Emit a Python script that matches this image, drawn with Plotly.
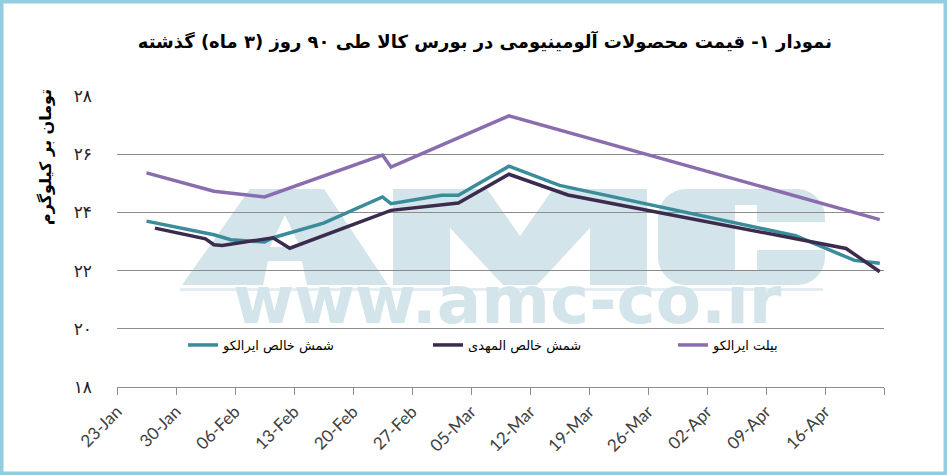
import math
import pandas as pd
import plotly.graph_objects as go

# data (Toman per kg)
teal_name = "شمش خالص ایرالکو"
teal_dates = ["2024-01-26", "2024-02-03", "2024-02-05", "2024-02-09", "2024-02-10",
              "2024-02-16", "2024-02-23", "2024-02-24", "2024-03-01", "2024-03-03",
              "2024-03-09", "2024-03-15", "2024-04-12", "2024-04-19", "2024-04-22"]
teal_values = [23.70, 23.23, 23.06, 22.98, 23.13,
               23.63, 24.53, 24.30, 24.59, 24.59,
               25.59, 24.93, 23.20, 22.35, 22.25]

dark_name = "شمش خالص المهدی"
dark_dates = ["2024-01-27", "2024-02-02", "2024-02-03", "2024-02-04", "2024-02-10",
              "2024-02-12", "2024-02-24", "2024-03-03", "2024-03-09", "2024-03-16",
              "2024-04-18", "2024-04-22"]
dark_values = [23.46, 23.09, 22.89, 22.86, 23.13,
               22.77, 24.07, 24.32, 25.31, 24.60,
               22.76, 21.96]

purple_name = "بیلت ایرالکو"
purple_dates = ["2024-01-26", "2024-02-03", "2024-02-09", "2024-02-23", "2024-02-24",
                "2024-03-09", "2024-04-22"]
purple_values = [25.36, 24.73, 24.53, 25.97, 25.56, 27.32, 23.75]

x_tick_dates = pd.date_range("2024-01-23", "2024-04-23", freq="7D")
x_tick_labels = ["23-Jan", "30-Jan", "06-Feb", "13-Feb", "20-Feb", "27-Feb", "05-Mar",
                 "12-Mar", "19-Mar", "26-Mar", "02-Apr", "09-Apr", "16-Apr", ""]
y_tick_vals = [18, 20, 22, 24, 26, 28]
y_tick_labels = ["۱۸", "۲۰", "۲۲", "۲۴", "۲۶", "۲۸"]

title_text = "نمودار ۱- قیمت محصولات آلومینیومی در بورس کالا طی ۹۰ روز (۳ ماه) گذشته"
y_title = "تومان بر کیلوگرم"
watermark_url = "www.amc-co.ir"

W, H = 947, 475
L, R, T, B = 117, 884, 96, 387
WM = "#d3e4ea"


def to_paper(x, y):
    return (x - L) / (R - L), (B - y) / (B - T)


def path_from(*rings):
    parts = []
    for ring in rings:
        pts = [to_paper(x, y) for x, y in ring]
        parts.append("M" + " L".join(f"{a:.4f},{b:.4f}" for a, b in pts) + " Z")
    return " ".join(parts)


def arc(cx, cy, r, a0, a1, n=8):
    return [(cx + r * math.cos(math.radians(a0 + (a1 - a0) * i / n)),
             cy + r * math.sin(math.radians(a0 + (a1 - a0) * i / n))) for i in range(n + 1)]


# mid-day placement, like the Excel date axis
def xs(dates):
    return pd.to_datetime(dates) + pd.Timedelta(hours=12)


fig = go.Figure()
fig.add_trace(go.Scatter(x=xs(teal_dates), y=teal_values, name=teal_name, mode="lines",
                         line=dict(color="#3a8c9a", width=3.5)))
fig.add_trace(go.Scatter(x=xs(dark_dates), y=dark_values, name=dark_name, mode="lines",
                         line=dict(color="#3b2b4e", width=3.5)))
fig.add_trace(go.Scatter(x=xs(purple_dates), y=purple_values, name=purple_name, mode="lines",
                         line=dict(color="#8a6dae", width=3.5)))

# watermark letters "AMC" (drawn under the lines)
letter_a = path_from([(182, 285), (250, 189), (324, 189), (388, 285), (307, 285),
                      (302, 261), (268, 261), (263, 285)],
                     [(285, 215), (300, 247), (270, 247)])
letter_m = path_from([(393, 285), (393, 189), (487, 189), (520, 236), (553, 189),
                      (647, 189), (647, 285), (590, 285), (590, 228), (537, 285),
                      (503, 285), (450, 228), (450, 285)])
c_ring = ([(825, 222)] + arc(797, 217, 28, 0, -90) + arc(686, 217, 28, -90, -180)
          + arc(686, 257, 28, 180, 90) + arc(797, 257, 28, 90, 0)
          + [(825, 250), (757, 250), (757, 270), (735, 270), (735, 205), (757, 205), (757, 222)])
letter_c = path_from(c_ring)
shapes = []
for p in (letter_a, letter_m, letter_c):
    shapes.append(dict(type="path", path=p, xref="paper", yref="paper", layer="below",
                       fillcolor=WM, line=dict(width=0), fillrule="evenodd"))
sx0, sy0 = to_paper(180, 288)
sx1, sy1 = to_paper(823, 291)
shapes.append(dict(type="rect", xref="paper", yref="paper", x0=sx0, x1=sx1, y0=sy0, y1=sy1,
                   layer="below", fillcolor="#e4eef2", line=dict(width=0)))

# light blue frame round the picture
fx0, fy0 = to_paper(0, H)
fx1, fy1 = to_paper(W, 0)
shapes.append(dict(type="rect", xref="paper", yref="paper", x0=fx0, x1=fx1, y0=fy0, y1=fy1,
                   line=dict(color="#92cde0", width=7), layer="above"))

wx, wy = to_paper(507, 300)
ax_, ay_ = to_paper(45, 157)
fig.update_layout(
    width=W, height=H,
    margin=dict(l=L, r=W - R, t=T, b=H - B),
    paper_bgcolor="white", plot_bgcolor="white",
    shapes=shapes,
    title=dict(text=title_text, x=0.512, xref="container", y=1 - 42 / H, yref="container",
               xanchor="center", yanchor="middle",
               font=dict(family="DejaVu Sans", size=18, color="black", weight="bold")),
    annotations=[
        dict(text=watermark_url, x=wx, y=wy, xref="paper", yref="paper", showarrow=False,
             xanchor="center", yanchor="middle",
             font=dict(family="DejaVu Sans", size=66, color=WM, weight="bold")),
        dict(text=y_title, x=ax_, y=ay_, xref="paper", yref="paper", showarrow=False,
             textangle=-90, xanchor="center", yanchor="middle",
             font=dict(family="DejaVu Sans", size=16, color="black", weight="bold")),
    ],
    legend=dict(orientation="h", x=to_paper(183, 0)[0], y=to_paper(0, 345)[1],
                xanchor="left", yanchor="middle", entrywidth=200, entrywidthmode="pixels",
                font=dict(family="DejaVu Sans", size=13, color="black"),
                bgcolor="rgba(0,0,0,0)"),
    showlegend=True,
)
fig.update_xaxes(range=["2024-01-23", "2024-04-23"], tickvals=x_tick_dates, ticktext=x_tick_labels,
                 tickangle=-45, showgrid=False, showline=True, linecolor="#8c8c8c", linewidth=1,
                 ticks="outside", ticklen=7, tickcolor="#8c8c8c",
                 tickfont=dict(family="Lato", size=17, color="#404040"))
fig.update_yaxes(range=[18, 28], tickvals=y_tick_vals, ticktext=y_tick_labels,
                 showgrid=True, gridcolor="#8c8c8c", gridwidth=1, zeroline=False, showline=False,
                 ticks="", ticklabelstandoff=24,
                 tickfont=dict(family="DejaVu Sans", size=17, color="#222222"))

# drop the default page margin so the figure fills the window
fig.write_html("out.html", config={"displayModeBar": False},
               post_script="document.body.style.margin='0';")
